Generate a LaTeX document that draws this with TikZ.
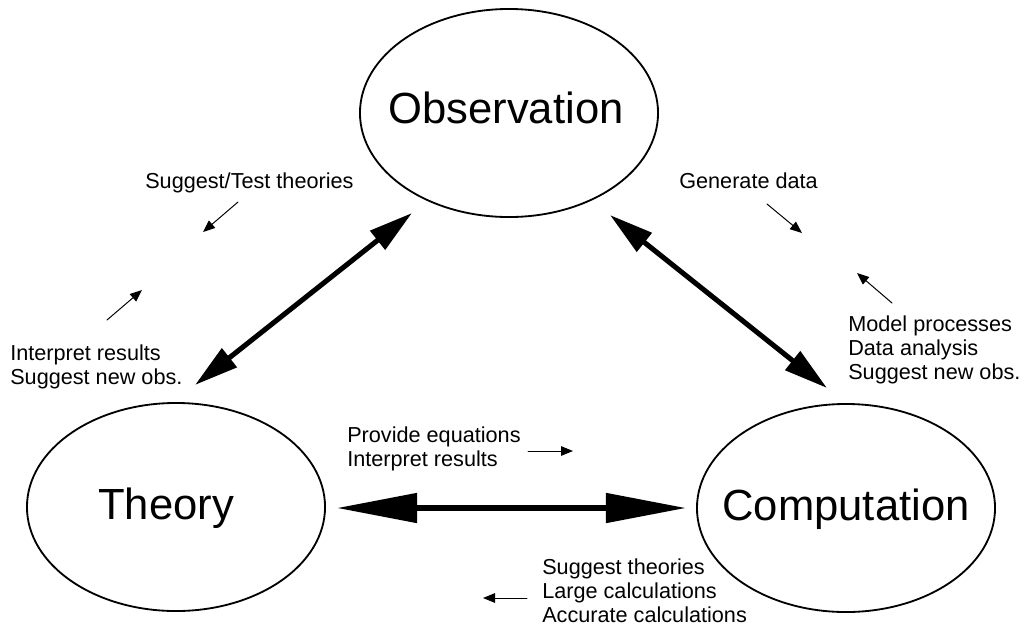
\documentclass[tikz,border=0pt]{standalone}
\usepackage{fontspec}
\setmainfont{Liberation Sans}
\usetikzlibrary{arrows.meta,shapes.geometric}
\tikzset{
  Bubble/.style={
    draw, line width=1.3pt, ellipse,
    minimum width=7.45cm, minimum height=5.2cm,
    inner sep=0pt
  },
  BigLabel/.style={anchor=base, inner sep=0pt, font=\fontsize{31}{37}\selectfont},
  % base of a multi-line note is the baseline of its last line
  Note/.style={anchor=base west, align=left, inner sep=0pt, font=\fontsize{15.4}{17}\selectfont},
  BigArrow/.style={line width=3.6pt, {Triangle[length=1.1cm,width=0.58cm]}-{Triangle[length=1.1cm,width=0.58cm]}},
  WideArrow/.style={line width=3.8pt, {Triangle[length=2cm,width=0.72cm]}-{Triangle[length=2cm,width=0.72cm]}},
  SmallArrow/.style={line width=0.7pt, -{Triangle[length=0.3cm,width=0.24cm]}}
}

\begin{document}
\begin{tikzpicture}[x=0.025cm, y=-0.025cm, line cap=round, line join=round]
  \useasboundingbox (0,0) rectangle (1026,633);

  % the three fields
  \node[Bubble] (obs) at (509,113) {};
  \node[Bubble] (thy) at (176,507) {};
  \node[Bubble] (comp) at (846,508) {};
  \node[BigLabel] (obsText) at (506,123) {Observation};
  \node[BigLabel] (thyText) at (166,519) {Theory};
  \node[BigLabel] (compText) at (846,520) {Computation};

  % ends of the thick arrows
  \coordinate (thyUp) at (195,385);
  \coordinate (obsLeft) at (412,213);
  \coordinate (obsRight) at (610,215);
  \coordinate (compUp) at (827,388);
  \coordinate (thyRight) at (337,508);
  \coordinate (compLeft) at (686,508);

  \draw[BigArrow] (thyUp)--(obsLeft);
  \draw[BigArrow] (obsRight)--(compUp);
  \draw[WideArrow] (thyRight)--(compLeft);

  % small direction arrows
  \coordinate (toThyA) at (238,202);  \coordinate (toThyB) at (203,232);
  \coordinate (toObsA) at (107,320);  \coordinate (toObsB) at (142,290);
  \coordinate (toCompA) at (767,204); \coordinate (toCompB) at (802,233);
  \coordinate (fromCompA) at (892,303); \coordinate (fromCompB) at (857,273);
  \coordinate (rightA) at (528,451);  \coordinate (rightB) at (573,451);
  \coordinate (leftA) at (527,598);   \coordinate (leftB) at (483,598);

  \draw[SmallArrow] (toThyA)--(toThyB);
  \draw[SmallArrow] (toObsA)--(toObsB);
  \draw[SmallArrow] (toCompA)--(toCompB);
  \draw[SmallArrow] (fromCompA)--(fromCompB);
  \draw[SmallArrow] (rightA)--(rightB);
  \draw[SmallArrow] (leftA)--(leftB);

  \node[Note] (noteTest) at (145,188) {Suggest/Test theories};
  \node[Note] (noteData) at (679,188) {Generate data};
  \node[Note] (noteInterp) at (10,384) {Interpret results\\Suggest new obs.};
  \node[Note] (noteModel) at (848,379) {Model processes\\Data analysis\\Suggest new obs.};
  \node[Note] (noteEqn) at (347,466) {Provide equations\\Interpret results};
  \node[Note] (noteCalc) at (542,622) {Suggest theories\\Large calculations\\Accurate calculations};
\end{tikzpicture}
\end{document}
